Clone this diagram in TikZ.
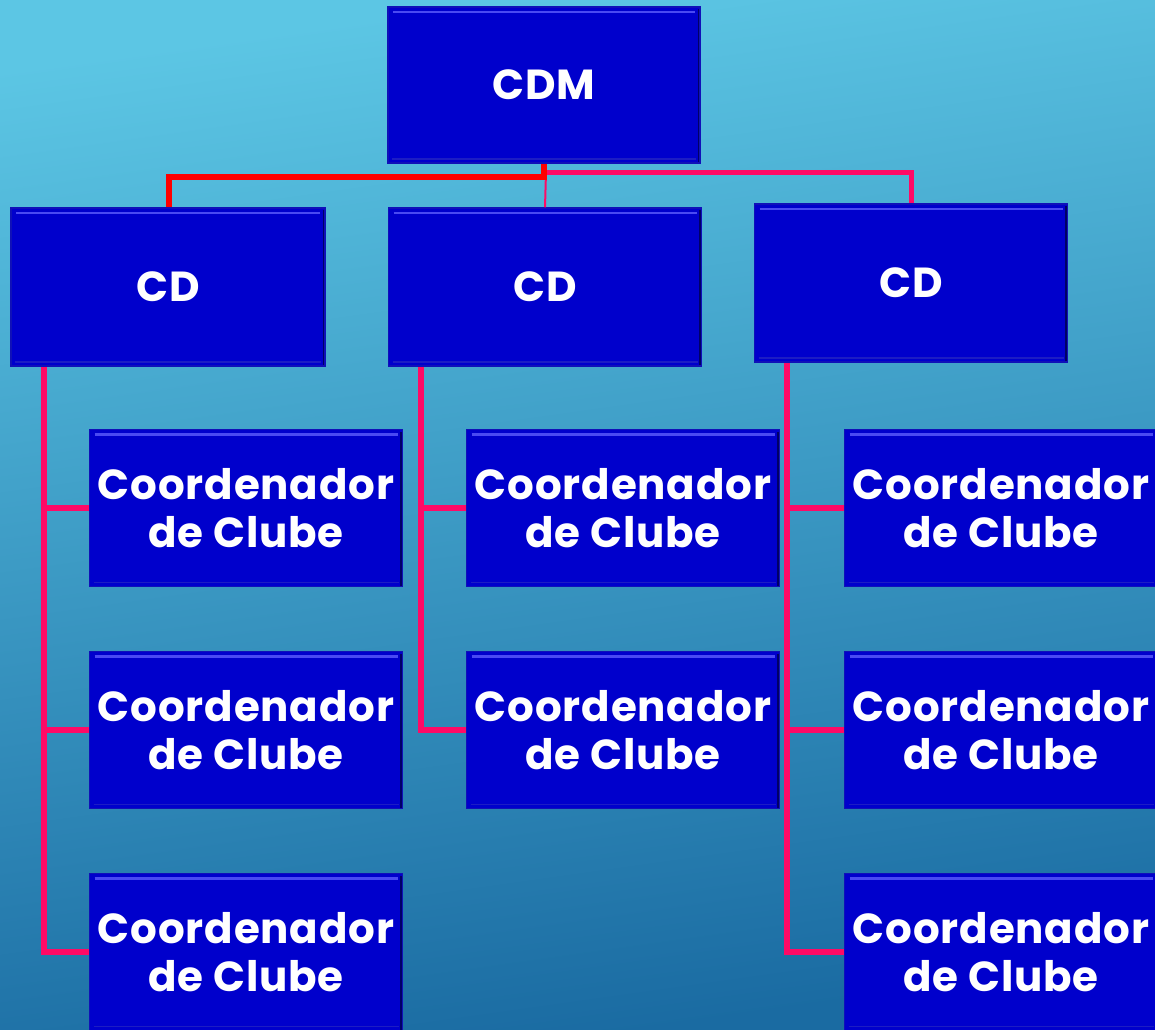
\documentclass[tikz,border=0pt]{standalone}
\usepackage{fontspec}
\setmainfont{Poppins}[LetterSpace=2]
\definecolor{bgtop}{HTML}{5CC6E4}
\definecolor{bgbot}{HTML}{1A6BA2}
\definecolor{boxfill}{HTML}{0000CC}
\definecolor{boxedge}{HTML}{1010B8}
\definecolor{boxlight}{HTML}{4A4AF2}
\definecolor{boxdark}{HTML}{000066}
\definecolor{linered}{HTML}{FF0000}
\definecolor{linepink}{HTML}{FF0A66}
\begin{document}
\begin{tikzpicture}[x=1pt,y=-1pt,
  box/.style={draw=boxedge, line width=1.5pt, fill=boxfill, text=white,
    font=\bfseries\fontsize{42}{48}\selectfont, align=center,
    minimum width=313pt, minimum height=157pt, inner sep=0pt,
    path picture={
      \draw[boxlight, line width=2.5pt]
        ([xshift=5pt,yshift=-5pt]path picture bounding box.north west) --
        ([xshift=-5pt,yshift=-5pt]path picture bounding box.north east);
      \draw[boxdark, line width=3pt]
        ([xshift=-1pt,yshift=-2pt]path picture bounding box.north east) --
        ([xshift=-1pt]path picture bounding box.south east);
      \draw[boxedge!80!boxlight, line width=1.5pt]
        ([xshift=4pt,yshift=4pt]path picture bounding box.south west) --
        ([xshift=-4pt,yshift=4pt]path picture bounding box.south east);
    }},
  redline/.style={draw=linered, line width=6pt},
  pinkline/.style={draw=linepink, line width=5.5pt},
  thinpink/.style={draw=linepink, line width=2pt}]
\shade[top color=bgtop, bottom color=bgbot, shading angle=8] (0,0) rectangle (1155,1029);
\useasboundingbox (0,0) rectangle (1155,1029);

\coordinate (j) at (546,172);
\coordinate (r1) at (44,366);
\coordinate (r2) at (421,366);
\coordinate (r3) at (787,362);

\node[box, minimum width=312pt, minimum height=156pt] (cdm) at (544,85) {CDM};
\node[box, minimum width=314pt, minimum height=158pt] (cd1) at (168,287) {CD};
\node[box, minimum width=313pt, minimum height=158pt] (cd2) at (545,287) {CD};
\node[box, minimum width=313pt, minimum height=158pt] (cd3) at (911,283) {CD};

\node[box] (a1) at (246,508) {Coordenador\\de Clube};
\node[box] (a2) at (246,730) {Coordenador\\de Clube};
\node[box] (a3) at (246,952) {Coordenador\\de Clube};
\node[box] (b1) at (623,508) {Coordenador\\de Clube};
\node[box] (b2) at (623,730) {Coordenador\\de Clube};
\node[box] (c1) at (1001,508) {Coordenador\\de Clube};
\node[box] (c2) at (1001,730) {Coordenador\\de Clube};
\node[box] (c3) at (1001,952) {Coordenador\\de Clube};

\draw[pinkline, line width=5pt] (j) -| (cd3.north);
\draw[thinpink] (j) -- (cd2.north);
\draw[redline] (cdm.south) -- ++(0,13) -| ([xshift=1pt]cd1.north);

\draw[pinkline] (r1 |- cd1.south) -- (r1 |- a3.west) -- (a3.west);
\draw[pinkline] (r1 |- a1.west) -- (a1.west);
\draw[pinkline] (r1 |- a2.west) -- (a2.west);

\draw[pinkline] (r2 |- cd2.south) -- (r2 |- b2.west) -- (b2.west);
\draw[pinkline] (r2 |- b1.west) -- (b1.west);

\draw[pinkline] (r3 |- cd3.south) -- (r3 |- c3.west) -- (c3.west);
\draw[pinkline] (r3 |- c1.west) -- (c1.west);
\draw[pinkline] (r3 |- c2.west) -- (c2.west);
\end{tikzpicture}
\end{document}
